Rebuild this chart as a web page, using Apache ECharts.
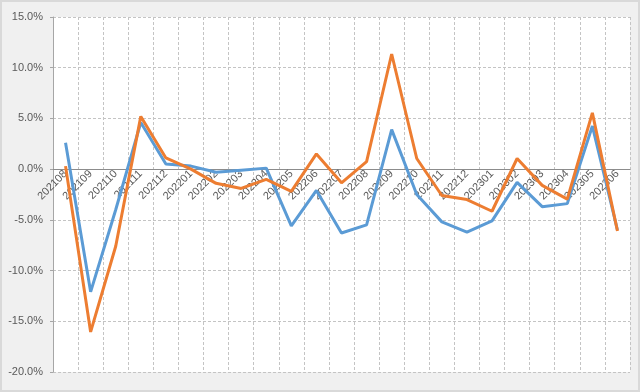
<!DOCTYPE html>
<html>
<head>
<meta charset="utf-8">
<script src="https://cdn.jsdelivr.net/npm/echarts@6/dist/echarts.min.js"></script>
<style>
html,body{margin:0;padding:0;}
#wrap{width:640px;height:392px;box-sizing:border-box;border:2px solid #d9d9d9;background:#f0f0f0;position:relative;}
#chart{position:absolute;left:-2px;top:-2px;width:640px;height:392px;}
</style>
</head>
<body>
<div id="wrap"><div id="chart"></div></div>
<script>
const categories = ['202108','202109','202110','202111','202112','202201','202202','202203','202204','202205','202206','202207','202208','202209','202210','202211','202212','202301','202302','202303','202304','202305','202306'];
const seriesBlue = [2.6,-12.1,-4.0,4.6,0.5,0.3,-0.3,-0.1,0.1,-5.6,-2.1,-6.3,-5.5,3.9,-2.5,-5.2,-6.2,-5.1,-1.3,-3.7,-3.4,4.25,-6.0];
const seriesOrange = [0.3,-16.05,-7.6,5.2,1.1,0.0,-1.4,-1.9,-1.0,-2.2,1.5,-1.35,0.75,11.35,1.05,-2.6,-3.0,-4.15,1.05,-1.6,-2.95,5.55,-6.1];
const yMin = -20, yMax = 15, yStep = 5;

const gridTop = 17, gridBottom = 20, H = 392;
const plotH = H - gridTop - gridBottom;
const zeroFromBottom = plotH * (0 - yMin) / (yMax - yMin);

const chart = echarts.init(document.getElementById('chart'));
const gridLine = {show:true, lineStyle:{color:'#c4c4c4', type:[3,2], width:1}};
chart.setOption({
  animation:false,
  backgroundColor:'transparent',
  grid:{left:53, right:10, top:gridTop, bottom:gridBottom, containLabel:false, outerBoundsMode:'none', show:true, backgroundColor:'#ffffff', borderWidth:0},
  xAxis:{
    type:'category', data:categories, boundaryGap:true, position:'bottom', offset:-zeroFromBottom,
    axisLine:{show:true, onZero:false, lineStyle:{color:'#8c8c8c', width:1}},
    axisTick:{show:false},
    axisLabel:{interval:0, rotate:45, margin:3, color:'#595959', fontSize:11, fontFamily:'Liberation Sans, Arial, sans-serif'},
    splitLine:{show:true, interval:0, lineStyle:{color:'#c4c4c4', type:[3,2], width:1}}
  },
  yAxis:{
    type:'value', min:yMin, max:yMax, interval:yStep,
    axisLine:{show:true, lineStyle:{color:'#a6a6a6', width:1}},
    axisTick:{show:true, length:3, lineStyle:{color:'#a6a6a6'}},
    axisLabel:{formatter:v=>v.toFixed(1)+'%', color:'#595959', fontSize:11, margin:10, fontFamily:'Liberation Sans, Arial, sans-serif'},
    splitLine:gridLine
  },
  series:[
    {type:'line', data:seriesBlue, showSymbol:false, symbol:'none', lineStyle:{color:'#5b9bd5', width:3}, itemStyle:{color:'#5b9bd5'}, z:2},
    {type:'line', data:seriesOrange, showSymbol:false, symbol:'none', lineStyle:{color:'#ed7d31', width:3}, itemStyle:{color:'#ed7d31'}, z:3}
  ]
});
</script>
</body>
</html>
